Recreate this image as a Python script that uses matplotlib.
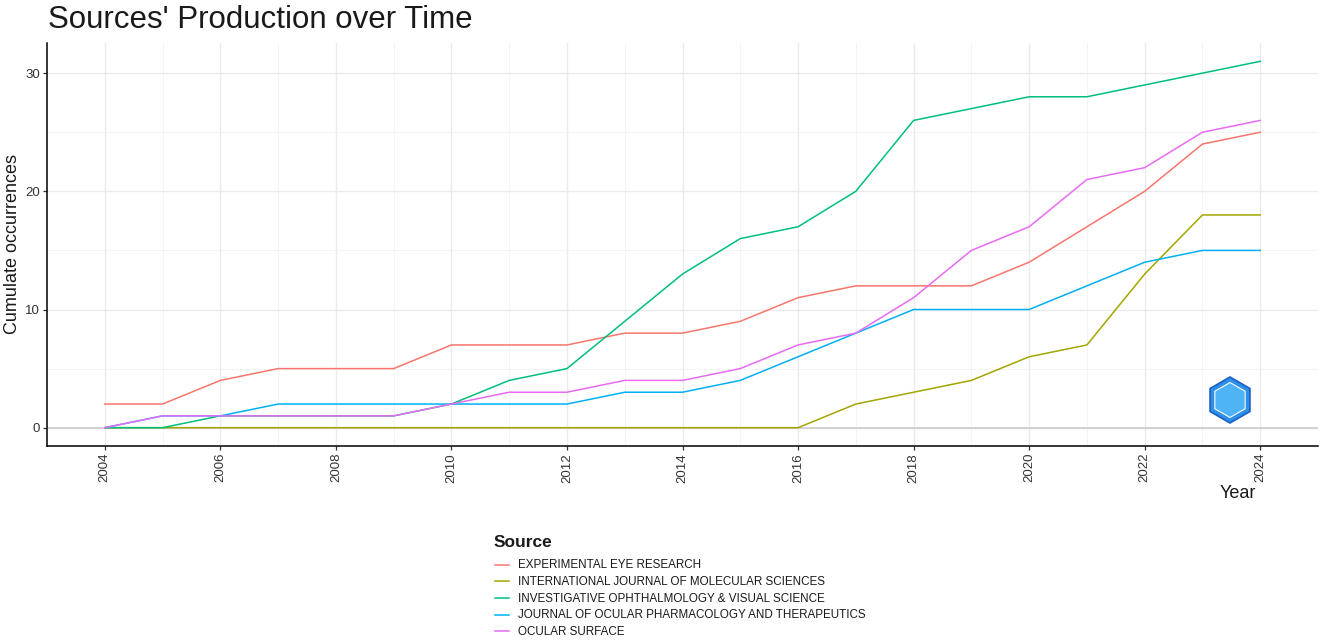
import matplotlib.pyplot as plt
from matplotlib.patches import RegularPolygon
from matplotlib.lines import Line2D

plt.rcParams['font.family'] = ['Liberation Sans', 'DejaVu Sans']

# Cumulative occurrences per source and year
years = list(range(2004, 2025))
sources = [
    'EXPERIMENTAL EYE RESEARCH',
    'INTERNATIONAL JOURNAL OF MOLECULAR SCIENCES',
    'INVESTIGATIVE OPHTHALMOLOGY & VISUAL SCIENCE',
    'JOURNAL OF OCULAR PHARMACOLOGY AND THERAPEUTICS',
    'OCULAR SURFACE',
]
exp_eye_res = [2, 2, 4, 5, 5, 5, 7, 7, 7, 8, 8, 9, 11, 12, 12, 12, 14, 17, 20, 24, 25]
int_j_mol_sci = [0, 0, 0, 0, 0, 0, 0, 0, 0, 0, 0, 0, 0, 2, 3, 4, 6, 7, 13, 18, 18]
invest_ophth = [0, 0, 1, 1, 1, 1, 2, 4, 5, 9, 13, 16, 17, 20, 26, 27, 28, 28, 29, 30, 31]
j_ocul_pharm = [0, 1, 1, 2, 2, 2, 2, 2, 2, 3, 3, 4, 6, 8, 10, 10, 10, 12, 14, 15, 15]
ocular_surface = [0, 1, 1, 1, 1, 1, 2, 3, 3, 4, 4, 5, 7, 8, 11, 15, 17, 21, 22, 25, 26]
series = [exp_eye_res, int_j_mol_sci, invest_ophth, j_ocul_pharm, ocular_surface]
colors = ['#F8766D', '#A3A500', '#00BF7D', '#00B0F6', '#E76BF3']

W, H = 1325, 641
fig = plt.figure(figsize=(W / 100, H / 100), dpi=100)
ax = fig.add_axes([47 / W, 1 - 446 / H, (1318 - 47) / W, (446 - 43) / H])

# grid
ax.set_xticks(range(2004, 2025, 2))
ax.set_xticks(range(2005, 2025, 2), minor=True)
ax.set_yticks([0, 10, 20, 30])
ax.set_yticks([5, 15, 25], minor=True)
ax.grid(True, which='major', color='#EBEBEB', lw=1.0)
ax.grid(True, which='minor', color='#F2F2F2', lw=0.6)
ax.set_axisbelow(True)
ax.axhline(0, color='#C8C8C8', lw=1.1, zorder=1)

for vals, c in zip(series, colors):
    ax.plot(years, vals, color=c, lw=1.1, zorder=2)

ax.set_xlim(2003, 2025)
ax.set_ylim(-1.55, 32.55)

for s in ['top', 'right']:
    ax.spines[s].set_visible(False)
for s in ['left', 'bottom']:
    ax.spines[s].set_linewidth(1.1)
    ax.spines[s].set_color('black')

ax.tick_params(axis='both', which='major', length=3, width=0.9, color='#333333',
               labelsize=9.5, labelcolor='#333333', pad=2)
ax.tick_params(axis='both', which='minor', length=0)
ax.tick_params(axis='x', labelrotation=90)

fig.text(48 / W, 1 - 28 / H, "Sources' Production over Time", fontsize=22.5,
         color='#1A1A1A', ha='left', va='baseline')
fig.text(1256 / W, 1 - 493 / H, 'Year', fontsize=13, color='#1A1A1A',
         ha='right', va='center')
fig.text(12.5 / W, 1 - 244 / H, 'Cumulate occurrences', fontsize=13,
         color='#1A1A1A', rotation=90, ha='center', va='center')

# legend, laid out by hand below the panel
fig.text(494 / W, 1 - 547 / H, 'Source', fontsize=12.5, weight='bold',
         color='#1A1A1A', ha='left', va='baseline')
row_y = 564.5
for name, c in zip(sources, colors):
    fig.add_artist(Line2D([495 / W, 509 / W], [1 - row_y / H, 1 - row_y / H],
                          color=c, lw=1.1, transform=fig.transFigure))
    fig.text(518 / W, 1 - (row_y + 3.8) / H, name, fontsize=8.4,
             color='#1A1A1A', ha='left', va='baseline')
    row_y += 16.7

# watermark logo
lax = fig.add_axes([1205 / W, 1 - 425 / H, 50 / W, 50 / H])
lax.set_xlim(-1, 1)
lax.set_ylim(-1, 1)
lax.set_aspect('equal')
lax.axis('off')
lax.add_patch(RegularPolygon((0, 0), 6, radius=0.92, facecolor='#2F8FE8',
                             edgecolor='#1C5FC4', lw=1.2))
lax.add_patch(RegularPolygon((0, 0), 6, radius=0.7, facecolor='#4FB4F5',
                             edgecolor='white', lw=0.8))

fig.savefig('out.png', dpi=100)
